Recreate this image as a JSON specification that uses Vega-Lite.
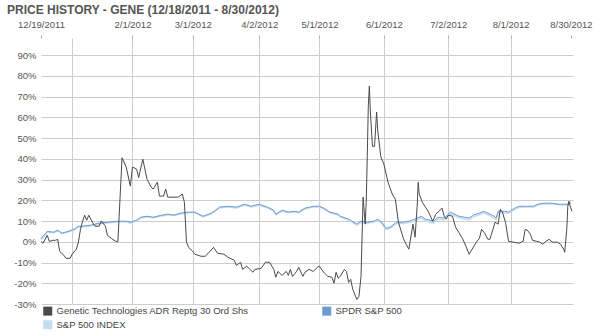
{
  "$schema": "https://vega.github.io/schema/vega-lite/v6.json",
  "width": 532,
  "height": 266,
  "autosize": {"type": "none"},
  "padding": {"left": 41, "top": 38, "right": 27, "bottom": 32},
  "background": "white",
  "config": {"view": {"stroke": null}, "font": "Liberation Sans"},
  "title": {
    "text": "PRICE HISTORY - GENE (12/18/2011 - 8/30/2012)",
    "anchor": "start",
    "frame": "group",
    "font": "Liberation Sans",
    "fontSize": 12,
    "fontWeight": "bold",
    "color": "#555555",
    "dx": -34,
    "dy": 2,
    "offset": 4
  },
  "datasets": {
    "gene": [
      {"date": "2011-12-19", "v": 0.2}, {"date": "2011-12-20", "v": -0.7}, {"date": "2011-12-22", "v": 3.1},
      {"date": "2011-12-23", "v": 0.2}, {"date": "2011-12-25", "v": 0.7}, {"date": "2011-12-26", "v": 0.7},
      {"date": "2011-12-27", "v": 1.2}, {"date": "2011-12-28", "v": -4.6}, {"date": "2011-12-30", "v": -6.5},
      {"date": "2011-12-31", "v": -8}, {"date": "2012-01-02", "v": -8}, {"date": "2012-01-03", "v": -6},
      {"date": "2012-01-05", "v": -3.6}, {"date": "2012-01-06", "v": -0.2}, {"date": "2012-01-07", "v": 6},
      {"date": "2012-01-08", "v": 9.9}, {"date": "2012-01-09", "v": 12.8}, {"date": "2012-01-10", "v": 10.4},
      {"date": "2012-01-11", "v": 12.8}, {"date": "2012-01-13", "v": 9}, {"date": "2012-01-14", "v": 7.5},
      {"date": "2012-01-16", "v": 7.5}, {"date": "2012-01-17", "v": 10}, {"date": "2012-01-19", "v": 7.5},
      {"date": "2012-01-20", "v": 3}, {"date": "2012-01-22", "v": 1.5}, {"date": "2012-01-24", "v": 0.2},
      {"date": "2012-01-25", "v": 0}, {"date": "2012-01-26", "v": 20.5}, {"date": "2012-01-27", "v": 40.5},
      {"date": "2012-01-29", "v": 36}, {"date": "2012-01-31", "v": 26.8}, {"date": "2012-02-01", "v": 36},
      {"date": "2012-02-03", "v": 35}, {"date": "2012-02-04", "v": 31}, {"date": "2012-02-06", "v": 39.8},
      {"date": "2012-02-08", "v": 30.2}, {"date": "2012-02-10", "v": 26.3}, {"date": "2012-02-11", "v": 25.4},
      {"date": "2012-02-13", "v": 28.7}, {"date": "2012-02-14", "v": 22}, {"date": "2012-02-16", "v": 22},
      {"date": "2012-02-17", "v": 25.4}, {"date": "2012-02-18", "v": 21.5}, {"date": "2012-02-21", "v": 21.5},
      {"date": "2012-02-23", "v": 21.5}, {"date": "2012-02-25", "v": 23}, {"date": "2012-02-26", "v": 19},
      {"date": "2012-02-27", "v": -0.2}, {"date": "2012-02-28", "v": -2.7}, {"date": "2012-03-01", "v": -4.6},
      {"date": "2012-03-02", "v": -6}, {"date": "2012-03-05", "v": -7}, {"date": "2012-03-07", "v": -7},
      {"date": "2012-03-09", "v": -5}, {"date": "2012-03-11", "v": -2.7}, {"date": "2012-03-13", "v": -5.6},
      {"date": "2012-03-16", "v": -6}, {"date": "2012-03-18", "v": -7.5}, {"date": "2012-03-21", "v": -8.9},
      {"date": "2012-03-22", "v": -11.4}, {"date": "2012-03-24", "v": -9.9}, {"date": "2012-03-25", "v": -13.3},
      {"date": "2012-03-27", "v": -11.8}, {"date": "2012-03-30", "v": -14.7}, {"date": "2012-03-31", "v": -13.3},
      {"date": "2012-04-03", "v": -12.8}, {"date": "2012-04-05", "v": -9.9}, {"date": "2012-04-07", "v": -9.9},
      {"date": "2012-04-09", "v": -13.3}, {"date": "2012-04-10", "v": -17.1}, {"date": "2012-04-11", "v": -14.3},
      {"date": "2012-04-13", "v": -16.2}, {"date": "2012-04-15", "v": -14.3}, {"date": "2012-04-16", "v": -16.2},
      {"date": "2012-04-17", "v": -13.3}, {"date": "2012-04-18", "v": -16.7}, {"date": "2012-04-20", "v": -14.3},
      {"date": "2012-04-21", "v": -12.3}, {"date": "2012-04-23", "v": -16.7}, {"date": "2012-04-24", "v": -14.7},
      {"date": "2012-04-26", "v": -13.3}, {"date": "2012-04-28", "v": -14.3}, {"date": "2012-04-30", "v": -12.3},
      {"date": "2012-05-01", "v": -11.8}, {"date": "2012-05-03", "v": -14.7}, {"date": "2012-05-04", "v": -15.7},
      {"date": "2012-05-05", "v": -16.7}, {"date": "2012-05-07", "v": -17.1}, {"date": "2012-05-08", "v": -20},
      {"date": "2012-05-09", "v": -14.7}, {"date": "2012-05-10", "v": -17.6}, {"date": "2012-05-11", "v": -16.7},
      {"date": "2012-05-13", "v": -13.3}, {"date": "2012-05-14", "v": -14.3}, {"date": "2012-05-15", "v": -19.6},
      {"date": "2012-05-16", "v": -18.1}, {"date": "2012-05-17", "v": -22.9}, {"date": "2012-05-19", "v": -27.8},
      {"date": "2012-05-20", "v": -26.3}, {"date": "2012-05-21", "v": -16.7}, {"date": "2012-05-22", "v": 21.5},
      {"date": "2012-05-23", "v": 8.5}, {"date": "2012-05-23T12:00Z", "v": 19}, {"date": "2012-05-24", "v": 41},
      {"date": "2012-05-24T12:00Z", "v": 65.5}, {"date": "2012-05-25", "v": 75}, {"date": "2012-05-25T12:00Z", "v": 62.5},
      {"date": "2012-05-26T12:00Z", "v": 46}, {"date": "2012-05-27T12:00Z", "v": 46}, {"date": "2012-05-28T12:00Z", "v": 62.5},
      {"date": "2012-05-29", "v": 54}, {"date": "2012-05-30T12:00Z", "v": 41}, {"date": "2012-06-01", "v": 37.4},
      {"date": "2012-06-03", "v": 28.7}, {"date": "2012-06-05", "v": 23}, {"date": "2012-06-06T12:00Z", "v": 20.5},
      {"date": "2012-06-08", "v": 9.4}, {"date": "2012-06-10T12:00Z", "v": 1.2}, {"date": "2012-06-13", "v": -3.6},
      {"date": "2012-06-15", "v": 8.5}, {"date": "2012-06-16", "v": 2.2}, {"date": "2012-06-17", "v": 17.1},
      {"date": "2012-06-17T12:00Z", "v": 28.7}, {"date": "2012-06-18", "v": 23}, {"date": "2012-06-19T12:00Z", "v": 19},
      {"date": "2012-06-21", "v": 16.7}, {"date": "2012-06-22T12:00Z", "v": 14.3}, {"date": "2012-06-24T12:00Z", "v": 9.9},
      {"date": "2012-06-26", "v": 13.3}, {"date": "2012-06-27T12:00Z", "v": 14.7}, {"date": "2012-06-29", "v": 16.2},
      {"date": "2012-06-30", "v": 12.3}, {"date": "2012-07-01", "v": 10.9}, {"date": "2012-07-02", "v": 12.8},
      {"date": "2012-07-04", "v": 12.3}, {"date": "2012-07-05T12:00Z", "v": 7}, {"date": "2012-07-07", "v": 4.6},
      {"date": "2012-07-09", "v": 1.2}, {"date": "2012-07-10T12:00Z", "v": -2.2}, {"date": "2012-07-12", "v": -6},
      {"date": "2012-07-14", "v": -2.7}, {"date": "2012-07-15T12:00Z", "v": -0.2}, {"date": "2012-07-17", "v": 1.7},
      {"date": "2012-07-18", "v": 6}, {"date": "2012-07-19T12:00Z", "v": 4.1}, {"date": "2012-07-21", "v": 1.2},
      {"date": "2012-07-22", "v": 1.2}, {"date": "2012-07-23T12:00Z", "v": 6}, {"date": "2012-07-24T12:00Z", "v": 9.4},
      {"date": "2012-07-26", "v": 8.5}, {"date": "2012-07-27", "v": 15.7}, {"date": "2012-07-28", "v": 14.3},
      {"date": "2012-07-29T12:00Z", "v": 9.4}, {"date": "2012-07-31", "v": 0.2}, {"date": "2012-08-02T12:00Z", "v": -0.2},
      {"date": "2012-08-05", "v": -0.7}, {"date": "2012-08-07", "v": 0.2}, {"date": "2012-08-08", "v": 6},
      {"date": "2012-08-09", "v": 5.6}, {"date": "2012-08-10T12:00Z", "v": 3.6}, {"date": "2012-08-11T12:00Z", "v": 0.7},
      {"date": "2012-08-13T12:00Z", "v": 0.2}, {"date": "2012-08-15", "v": -0.2}, {"date": "2012-08-16T12:00Z", "v": -1.2},
      {"date": "2012-08-18", "v": 0.2}, {"date": "2012-08-19T12:00Z", "v": 1.2}, {"date": "2012-08-21", "v": -0.2},
      {"date": "2012-08-23T12:00Z", "v": -0.2}, {"date": "2012-08-25", "v": -1.2}, {"date": "2012-08-26T12:00Z", "v": -3.6},
      {"date": "2012-08-27", "v": -5.1}, {"date": "2012-08-28", "v": 6}, {"date": "2012-08-28T12:00Z", "v": 17.1},
      {"date": "2012-08-29", "v": 19.6}, {"date": "2012-08-29T12:00Z", "v": 17.6}, {"date": "2012-08-30T12:00Z", "v": 14.7}
    ],
    "spy": [
      {"date": "2011-12-19", "v": 1.5}, {"date": "2011-12-22", "v": 5}, {"date": "2011-12-25", "v": 4.6},
      {"date": "2011-12-27", "v": 5.6}, {"date": "2011-12-29", "v": 4.1}, {"date": "2012-01-01", "v": 5},
      {"date": "2012-01-04", "v": 6}, {"date": "2012-01-06", "v": 7.5}, {"date": "2012-01-08", "v": 7.5},
      {"date": "2012-01-12", "v": 8}, {"date": "2012-01-16", "v": 9}, {"date": "2012-01-20", "v": 9.4},
      {"date": "2012-01-25", "v": 9.9}, {"date": "2012-01-29", "v": 9.9}, {"date": "2012-01-31", "v": 9.4},
      {"date": "2012-02-03", "v": 10.4}, {"date": "2012-02-05", "v": 11.8}, {"date": "2012-02-08", "v": 12.3},
      {"date": "2012-02-11", "v": 11.8}, {"date": "2012-02-15", "v": 12.8}, {"date": "2012-02-18", "v": 13.3},
      {"date": "2012-02-21", "v": 12.8}, {"date": "2012-02-24", "v": 13.8}, {"date": "2012-02-28", "v": 14.3},
      {"date": "2012-03-02", "v": 14.3}, {"date": "2012-03-06", "v": 12.3}, {"date": "2012-03-10", "v": 13.8},
      {"date": "2012-03-14", "v": 16.7}, {"date": "2012-03-18", "v": 17.1}, {"date": "2012-03-22", "v": 16.7},
      {"date": "2012-03-26", "v": 18.1}, {"date": "2012-03-29", "v": 17.1}, {"date": "2012-04-02", "v": 18.1},
      {"date": "2012-04-06", "v": 16.7}, {"date": "2012-04-09", "v": 15.2}, {"date": "2012-04-10", "v": 13.3},
      {"date": "2012-04-13", "v": 15.2}, {"date": "2012-04-16", "v": 14.3}, {"date": "2012-04-19", "v": 14.7},
      {"date": "2012-04-21", "v": 14.3}, {"date": "2012-04-24", "v": 16.2}, {"date": "2012-04-28", "v": 17.1},
      {"date": "2012-05-01", "v": 17.1}, {"date": "2012-05-03", "v": 16.2}, {"date": "2012-05-06", "v": 14.3},
      {"date": "2012-05-10", "v": 13.3}, {"date": "2012-05-11", "v": 12.3}, {"date": "2012-05-15", "v": 10.9},
      {"date": "2012-05-19", "v": 8.5}, {"date": "2012-05-21", "v": 9.9}, {"date": "2012-05-24", "v": 9.4},
      {"date": "2012-05-27", "v": 9.9}, {"date": "2012-05-29", "v": 10.9}, {"date": "2012-05-31", "v": 9.4},
      {"date": "2012-06-02", "v": 6.5}, {"date": "2012-06-04", "v": 7}, {"date": "2012-06-07", "v": 9.4},
      {"date": "2012-06-10", "v": 9.4}, {"date": "2012-06-13", "v": 9.9}, {"date": "2012-06-16", "v": 10.9},
      {"date": "2012-06-19", "v": 12.3}, {"date": "2012-06-21", "v": 10.9}, {"date": "2012-06-25", "v": 9.9},
      {"date": "2012-06-27", "v": 11.8}, {"date": "2012-06-30", "v": 11.4}, {"date": "2012-07-03", "v": 14.3},
      {"date": "2012-07-07", "v": 12.3}, {"date": "2012-07-10", "v": 11.8}, {"date": "2012-07-12", "v": 11.4},
      {"date": "2012-07-14", "v": 12.8}, {"date": "2012-07-17", "v": 13.8}, {"date": "2012-07-19", "v": 14.7},
      {"date": "2012-07-22", "v": 13.3}, {"date": "2012-07-24", "v": 12.3}, {"date": "2012-07-25", "v": 11.4},
      {"date": "2012-07-26", "v": 14.7}, {"date": "2012-07-29", "v": 14.7}, {"date": "2012-07-31", "v": 14.3},
      {"date": "2012-08-03", "v": 16.2}, {"date": "2012-08-05", "v": 17.1}, {"date": "2012-08-09", "v": 17.1},
      {"date": "2012-08-12", "v": 17.1}, {"date": "2012-08-14", "v": 18.1}, {"date": "2012-08-17", "v": 18.6},
      {"date": "2012-08-21", "v": 18.6}, {"date": "2012-08-24", "v": 18.1}, {"date": "2012-08-27", "v": 18.1},
      {"date": "2012-08-29", "v": 18.1}, {"date": "2012-08-30", "v": 19.1}
    ],
    "spx": [
      {"date": "2011-12-19", "v": 1.0}, {"date": "2011-12-22", "v": 4.6}, {"date": "2011-12-25", "v": 4.3},
      {"date": "2011-12-27", "v": 5.2}, {"date": "2011-12-29", "v": 4.0}, {"date": "2012-01-01", "v": 4.7},
      {"date": "2012-01-04", "v": 5.7}, {"date": "2012-01-06", "v": 7.0}, {"date": "2012-01-08", "v": 7.2},
      {"date": "2012-01-12", "v": 7.6}, {"date": "2012-01-16", "v": 8.6}, {"date": "2012-01-20", "v": 9.2},
      {"date": "2012-01-25", "v": 9.5}, {"date": "2012-01-29", "v": 9.7}, {"date": "2012-01-31", "v": 9.0},
      {"date": "2012-02-03", "v": 10.1}, {"date": "2012-02-05", "v": 11.5}, {"date": "2012-02-08", "v": 12.0},
      {"date": "2012-02-11", "v": 11.6}, {"date": "2012-02-15", "v": 12.4}, {"date": "2012-02-18", "v": 13.0},
      {"date": "2012-02-21", "v": 12.6}, {"date": "2012-02-24", "v": 13.4}, {"date": "2012-02-28", "v": 14.0},
      {"date": "2012-03-02", "v": 14.0}, {"date": "2012-03-06", "v": 12.0}, {"date": "2012-03-10", "v": 13.5},
      {"date": "2012-03-14", "v": 16.3}, {"date": "2012-03-18", "v": 16.8}, {"date": "2012-03-22", "v": 16.3},
      {"date": "2012-03-26", "v": 17.7}, {"date": "2012-03-29", "v": 16.8}, {"date": "2012-04-02", "v": 17.6},
      {"date": "2012-04-06", "v": 16.3}, {"date": "2012-04-09", "v": 14.9}, {"date": "2012-04-10", "v": 13.0},
      {"date": "2012-04-13", "v": 14.8}, {"date": "2012-04-16", "v": 14.0}, {"date": "2012-04-19", "v": 14.4},
      {"date": "2012-04-21", "v": 14.0}, {"date": "2012-04-24", "v": 15.8}, {"date": "2012-04-28", "v": 16.7},
      {"date": "2012-05-01", "v": 16.8}, {"date": "2012-05-03", "v": 15.9}, {"date": "2012-05-06", "v": 14.0},
      {"date": "2012-05-10", "v": 12.9}, {"date": "2012-05-11", "v": 12.0}, {"date": "2012-05-15", "v": 10.5},
      {"date": "2012-05-19", "v": 8.0}, {"date": "2012-05-21", "v": 9.3}, {"date": "2012-05-24", "v": 8.9},
      {"date": "2012-05-27", "v": 9.4}, {"date": "2012-05-29", "v": 10.4}, {"date": "2012-05-31", "v": 8.8},
      {"date": "2012-06-02", "v": 6.0}, {"date": "2012-06-04", "v": 6.4}, {"date": "2012-06-07", "v": 8.8},
      {"date": "2012-06-10", "v": 8.8}, {"date": "2012-06-13", "v": 9.2}, {"date": "2012-06-16", "v": 10.2},
      {"date": "2012-06-19", "v": 11.6}, {"date": "2012-06-21", "v": 10.2}, {"date": "2012-06-25", "v": 9.0},
      {"date": "2012-06-27", "v": 11.0}, {"date": "2012-06-30", "v": 10.6}, {"date": "2012-07-03", "v": 13.5},
      {"date": "2012-07-07", "v": 11.6}, {"date": "2012-07-10", "v": 11.0}, {"date": "2012-07-12", "v": 10.6},
      {"date": "2012-07-14", "v": 12.0}, {"date": "2012-07-17", "v": 13.0}, {"date": "2012-07-19", "v": 14.0},
      {"date": "2012-07-22", "v": 12.5}, {"date": "2012-07-24", "v": 11.5}, {"date": "2012-07-25", "v": 10.6},
      {"date": "2012-07-26", "v": 14.0}, {"date": "2012-07-29", "v": 14.1}, {"date": "2012-07-31", "v": 13.7},
      {"date": "2012-08-03", "v": 15.6}, {"date": "2012-08-05", "v": 16.6}, {"date": "2012-08-09", "v": 16.7},
      {"date": "2012-08-12", "v": 16.7}, {"date": "2012-08-14", "v": 17.7}, {"date": "2012-08-17", "v": 18.2},
      {"date": "2012-08-21", "v": 18.3}, {"date": "2012-08-24", "v": 17.8}, {"date": "2012-08-27", "v": 17.7},
      {"date": "2012-08-29", "v": 17.8}, {"date": "2012-08-30", "v": 18.6}
    ]
  },
  "encoding": {
    "x": {
      "field": "date",
      "type": "temporal",
      "scale": {
        "type": "utc",
        "domain": [
          {"year": 2011, "month": 12, "date": 19, "utc": true},
          {"year": 2012, "month": 8, "date": 31, "utc": true}
        ]
      },
      "axis": {
        "orient": "top",
        "title": null,
        "domain": false,
        "values": [
          {"year": 2011, "month": 12, "date": 19, "utc": true},
          {"year": 2012, "month": 1, "date": 3, "utc": true},
          {"year": 2012, "month": 2, "date": 1, "utc": true},
          {"year": 2012, "month": 3, "date": 1, "utc": true},
          {"year": 2012, "month": 4, "date": 2, "utc": true},
          {"year": 2012, "month": 5, "date": 1, "utc": true},
          {"year": 2012, "month": 6, "date": 1, "utc": true},
          {"year": 2012, "month": 7, "date": 2, "utc": true},
          {"year": 2012, "month": 8, "date": 1, "utc": true},
          {"year": 2012, "month": 8, "date": 30, "utc": true}
        ],
        "labelExpr": "utcmonth(datum.value) == 0 ? '' : utcFormat(datum.value, '%-m/%-d/%Y')",
        "labelFont": "Liberation Sans",
        "labelFontSize": 9.5,
        "labelColor": "#555555",
        "labelPadding": 6,
        "labelOverlap": false,
        "labelFlush": false,
        "labelBound": false,
        "tickSize": 3,
        "tickColor": "#aaaaaa",
        "tickOpacity": {"condition": {"test": "utcmonth(datum.value) == 0", "value": 0}, "value": 1},
        "grid": true,
        "gridColor": "#cccccc",
        "gridOpacity": {"condition": {"test": "utcmonth(datum.value) == 11 || utcdate(datum.value) == 30", "value": 0}, "value": 1}
      }
    },
    "y": {
      "field": "v",
      "type": "quantitative",
      "scale": {"domain": [-30, 98.2], "nice": false, "zero": false},
      "axis": {
        "title": null,
        "domain": false,
        "ticks": false,
        "values": [-30, -20, -10, 0, 10, 20, 30, 40, 50, 60, 70, 80, 90],
        "labelExpr": "datum.value + '%'",
        "labelFont": "Liberation Sans",
        "labelFontSize": 9.5,
        "labelColor": "#555555",
        "labelPadding": 5,
        "grid": true,
        "gridColor": "#cccccc"
      }
    }
  },
  "layer": [
    {
      "data": {"name": "spx"},
      "mark": {"type": "line", "strokeWidth": 1.5},
      "encoding": {
        "color": {
          "datum": "S&P 500 INDEX",
          "type": "nominal",
          "scale": {
            "domain": ["Genetic Technologies ADR Reptg 30 Ord Shs", "SPDR S&P 500", "S&P 500 INDEX"],
            "range": ["#4a4a4a", "#6b9bd1", "#c6dbef"]
          },
          "legend": {
            "title": null,
            "orient": "none",
            "legendX": 2,
            "legendY": 268,
            "direction": "horizontal",
            "columns": 2,
            "columnPadding": 73,
            "rowPadding": 3,
            "padding": 0,
            "symbolType": "square",
            "symbolSize": 81,
            "symbolStrokeWidth": 0,
            "labelFont": "Liberation Sans",
            "labelFontSize": 9.5,
            "labelColor": "#444444",
            "labelLimit": 400,
            "labelOffset": 4,
            "encode": {
              "symbols": {
                "update": {
                  "fill": {"scale": "color", "field": "value"},
                  "stroke": {"value": "transparent"},
                  "strokeWidth": {"value": 0}
                }
              }
            }
          }
        }
      }
    },
    {
      "data": {"name": "spy"},
      "mark": {"type": "line", "strokeWidth": 1},
      "encoding": {"color": {"datum": "SPDR S&P 500", "type": "nominal"}}
    },
    {
      "data": {"name": "gene"},
      "mark": {"type": "line", "strokeWidth": 1},
      "encoding": {"color": {"datum": "Genetic Technologies ADR Reptg 30 Ord Shs", "type": "nominal"}}
    }
  ]
}
